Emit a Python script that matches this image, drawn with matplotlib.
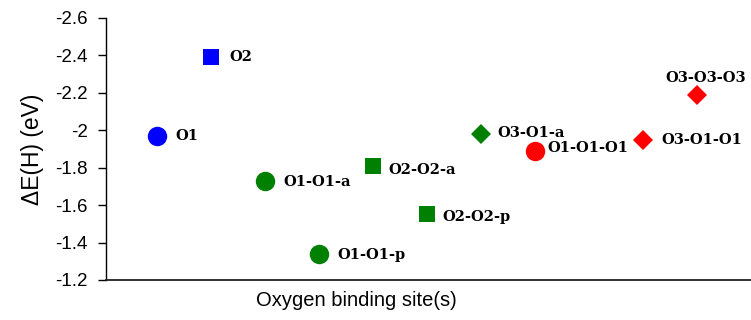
import numpy as np
import matplotlib
matplotlib.use('Agg')
from matplotlib import pyplot as plt
from matplotlib import rcParams

rcParams['font.family'] = ['Liberation Sans', 'DejaVu Sans']

sites = ['O1', 'O2', 'O1-O1-a', 'O1-O1-p', 'O2-O2-a', 'O2-O2-p',
         'O3-O1-a', 'O1-O1-O1', 'O3-O1-O1', 'O3-O3-O3']
site_pos = [1, 2, 3, 4, 5, 6, 7, 8, 10, 11]
dE = [-1.97, -2.39, -1.73, -1.34, -1.81, -1.55, -1.98, -1.89, -1.95, -2.19]
yticks = [-1.2, -1.4, -1.6, -1.8, -2.0, -2.2, -2.4, -2.6]
ytick_labels = ['-1.2', '-1.4', '-1.6', '-1.8', '-2', '-2.2', '-2.4', '-2.6']

# style per point
colors = ['#0000ff', '#0000ff', '#008000', '#008000', '#008000', '#008000',
          '#008000', '#ff0000', '#ff0000', '#ff0000']
markers = ['o', 's', 'o', 'o', 's', 's', 'D', 'o', 'D', 'D']
msizes = {'o': 14, 's': 12, 'D': 10}
# label offsets (points) and alignment
offsets = [(13, 0), (13, 0), (13, -1), (13, -1), (11, -3), (11, -2),
           (12, 1), (9, 2), (13, 0), (6, 12)]
has = ['left'] * 9 + ['center']

fig = plt.figure(figsize=(7.51, 3.2), dpi=100)
ax = fig.add_axes([0.141, 0.125, 0.859, 0.819])

for x, y, c, m, name, off, ha in zip(site_pos, dE, colors, markers, sites, offsets, has):
    ax.plot(x, y, marker=m, color=c, markersize=msizes[m], linestyle='none',
            markeredgewidth=0, clip_on=False)
    ax.annotate(name, (x, y), xytext=off, textcoords='offset points',
                ha=ha, va='center', fontsize=10.5, fontweight='bold',
                family='DejaVu Serif')

ax.set_xlim(0.05, 12)
ax.set_ylim(-1.2, -2.6)
ax.set_xticks([])
ax.set_yticks(yticks)
ax.set_yticklabels(ytick_labels)
ax.tick_params(axis='y', direction='out', length=6, width=1, pad=7,
               labelsize=13.5, colors='black')

for side in ['top', 'right']:
    ax.spines[side].set_visible(False)
ax.spines['left'].set_linewidth(1.0)
ax.spines['bottom'].set_linewidth(1.3)
ax.spines['bottom'].set_color('#202020')

ax.set_ylabel('ΔE(H) (eV)', fontsize=16.5, labelpad=8)
ax.set_xlabel('Oxygen binding site(s)', fontsize=14.5, labelpad=8, x=0.388)

fig.savefig('out.png', dpi=100)
